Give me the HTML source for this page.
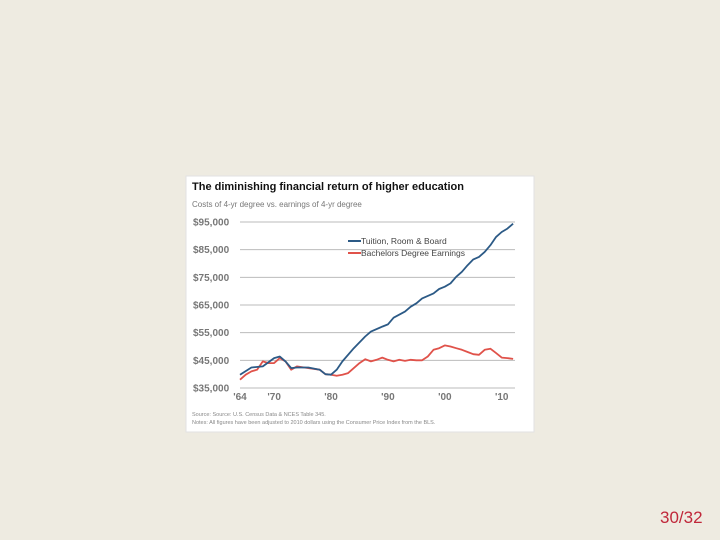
<!DOCTYPE html>
<html><head><meta charset="utf-8"><style>
html,body{margin:0;padding:0;}
body{width:720px;height:540px;background:#eeebe1;position:relative;overflow:hidden;font-family:"Liberation Sans",sans-serif;}
#slide-num{position:absolute;left:660px;top:508px;font-size:17px;color:#c0283a;}
svg{position:absolute;left:0;top:0;}
</style></head><body>
<svg width="720" height="540" id="chart">
<rect x="186" y="176" width="348" height="256" fill="#fff" stroke="#e2e2e2"/>
<text x="192" y="190" font-size="11" font-weight="bold" fill="#111">The diminishing financial return of higher education</text>
<text x="192" y="207" font-size="8" fill="#777">Costs of 4-yr degree vs. earnings of 4-yr degree</text>
<text x="192" y="416" font-size="5.5" fill="#888">Source: Source: U.S. Census Data &amp; NCES Table 345.</text>
<text x="192" y="424" font-size="5.5" fill="#888">Notes: All figures have been adjusted to 2010 dollars using the Consumer Price Index from the BLS.</text>
<g id="grid"></g><g id="lines"></g>
<g>
<line x1="348" y1="241" x2="361" y2="241" stroke="#2c5a86" stroke-width="2"/>
<text x="361" y="244" font-size="8.5" fill="#444">Tuition, Room &amp; Board</text>
<line x1="348" y1="253" x2="361" y2="253" stroke="#e0524a" stroke-width="2"/>
<text x="361" y="256" font-size="8.5" fill="#444">Bachelors Degree Earnings</text>
</g>
</svg>
<div id="slide-num">30/32</div>
<script>
const yTicks=[35000,45000,55000,65000,75000,85000,95000];
const yTickLabels=["$35,000","$45,000","$55,000","$65,000","$75,000","$85,000","$95,000"];
const xTicks=[1964,1970,1980,1990,2000,2010];
const xTickLabels=["'64","'70","'80","'90","'00","'10"];
const tuitionYears=[1964,1966,1968,1970,1971,1972,1973,1974,1976,1978,1979,1980,1981,1982,1984,1986,1987,1989,1990,1991,1993,1994,1995,1996,1998,1999,2000,2001,2002,2003,2004,2005,2006,2007,2008,2009,2010,2011,2012];
const tuition=[39.8,42.4,42.8,45.8,46.4,44.6,42.2,42.4,42.4,41.6,40,39.8,41.6,44.6,49.4,53.6,55.4,57.2,58,60.4,62.6,64.4,65.6,67.4,69.2,70.8,71.6,72.8,75.2,77,79.4,81.5,82.4,84.2,86.6,89.6,91.4,92.6,94.4];
const earnYears=[1964,1965,1966,1967,1968,1969,1970,1971,1972,1973,1974,1976,1978,1979,1980,1981,1982,1983,1984,1985,1986,1987,1988,1989,1990,1991,1992,1993,1994,1995,1996,1997,1998,1999,2000,2001,2002,2003,2004,2005,2006,2007,2008,2009,2010,2011,2012];
const earnings=[38,39.8,41,41.6,44.6,44,44,45.8,44.6,41.6,42.8,42.2,41.6,40,39.8,39.4,39.8,40.4,42.2,44,45.4,44.6,45.2,46,45.2,44.6,45.2,44.8,45.2,45,45,46.4,48.8,49.4,50.4,50,49.4,48.8,48,47.2,47,48.8,49.2,47.6,46,45.8,45.5];
const NS="http://www.w3.org/2000/svg";
const X=y=>240+(y-1964)*5.69;
const Y=v=>388-(v-35000)*166/60000;
const grid=document.getElementById('grid'),lines=document.getElementById('lines');
function mk(t,a,p){const e=document.createElementNS(NS,t);for(const k in a)e.setAttribute(k,a[k]);p.appendChild(e);return e;}
yTicks.forEach((v,i)=>{
 const l=mk('line',{x1:240,x2:515,y1:Y(v),y2:Y(v),stroke:'#bbb','stroke-width':1},grid);
 
 
 const t=mk('text',{x:193,y:Y(v)+3.5,'font-size':10,'font-weight':'bold',fill:'#777'},grid);
 t.textContent=yTickLabels[i];
 
 
});
xTicks.forEach((v,i)=>{
 const t=mk('text',{x:X(v),y:400,'font-size':10,'font-weight':'bold',fill:'#777','text-anchor':'middle'},grid);
 t.textContent=xTickLabels[i];
 
 
});
function line(xs,vs,c,name){
 const d=xs.map((y,i)=>(i?'L':'M')+X(y).toFixed(1)+','+Y(vs[i]*1000).toFixed(1)).join('');
 const p=mk('path',{d:d,fill:'none',stroke:c,'stroke-width':1.8,'stroke-linejoin':'round'},lines);
 
 
}
line(earnYears,earnings,'#e0524a','earnings-line');
line(tuitionYears,tuition,'#2c5a86','tuition-line');
</script>
</body></html>
